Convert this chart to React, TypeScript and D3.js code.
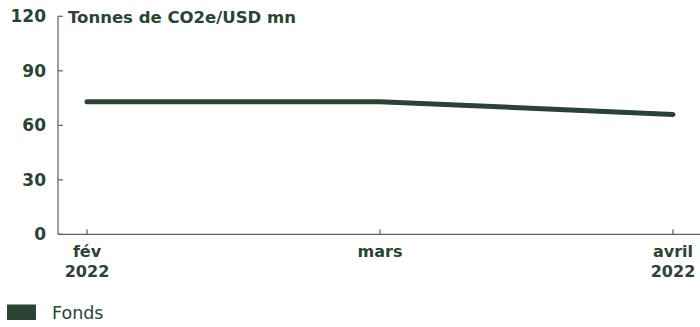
import React from "react";
import * as d3 from "d3";

const categories = ["fév 2022", "mars", "avril 2022"];
const values = [73, 73, 66];
const yTicks = [0, 30, 60, 90, 120];
const title = "Tonnes de CO2e/USD mn";
const seriesName = "Fonds";

const W = 700, H = 327;
const COLOR = "#2a4434";
const AXIS = "#56675c";
const FONT = "'DejaVu Sans', sans-serif";

export default function App() {
  const x = d3.scalePoint<string>().domain(categories).range([87, 673]);
  const y = d3.scaleLinear().domain([0, 120]).range([234.3, 16.3]);
  const line = d3
    .line<number>()
    .x((_, i) => x(categories[i]) as number)
    .y((d) => y(d))
    .curve(d3.curveLinear);
  const x0 = 58;
  return (
    <div style={{ position: "absolute", left: 0, top: 0 }}>
      <svg width={W} height={H} style={{ display: "block" }}>
        <line x1={x0} x2={x0} y1={y(120)} y2={y(0)} stroke={AXIS} strokeWidth={1.2} />
        <line x1={x0} x2={W} y1={y(0)} y2={y(0)} stroke={AXIS} strokeWidth={1.2} />
        {yTicks.map((t) => (
          <g key={t}>
            <line x1={x0} x2={x0 + 5} y1={y(t)} y2={y(t)} stroke={AXIS} strokeWidth={1.2} />
            <text x={46} y={y(t)} dy="0.36em" textAnchor="end" fontFamily={FONT} fontWeight={700} fontSize={17} fill={COLOR}>
              {t}
            </text>
          </g>
        ))}
        {categories.map((c) => {
          const parts = c.split(" ");
          const cx = x(c) as number;
          return (
            <g key={c}>
              <line x1={cx} x2={cx} y1={y(0) - 5} y2={y(0)} stroke={AXIS} strokeWidth={1.2} />
              {parts.map((p, i) => (
                <text key={i} x={cx} y={257 + i * 20} textAnchor="middle" fontFamily={FONT} fontWeight={700} fontSize={16} fill={COLOR}>
                  {p}
                </text>
              ))}
            </g>
          );
        })}
        <text x={68} y={22.5} fontFamily={FONT} fontWeight={700} fontSize={16.5} fill={COLOR}>
          {title}
        </text>
        <path d={line(values) || ""} fill="none" stroke={COLOR} strokeWidth={5} strokeLinecap="round" strokeLinejoin="round" />
        <rect x={7} y={304.5} width={29} height={15.5} fill={COLOR} />
        <text x={52} y={319.3} fontFamily={FONT} fontSize={17.5} fill={COLOR}>
          {seriesName}
        </text>
      </svg>
    </div>
  );
}
